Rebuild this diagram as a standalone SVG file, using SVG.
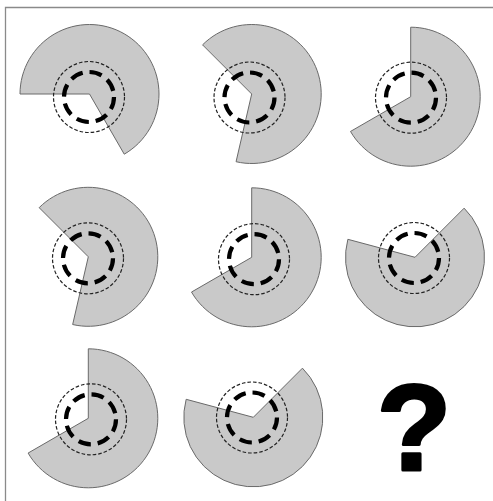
<svg xmlns="http://www.w3.org/2000/svg" width="493" height="501" viewBox="0 0 493 501">
<style>
.sector{fill:#c9c9c9;stroke:#6a6a6a;stroke-width:1}
.outer{fill:none;stroke:#222;stroke-width:1.2;stroke-dasharray:3.6 2}
.inner{fill:none;stroke:#000;stroke-width:4.2;stroke-dasharray:12.6 7}
.frame{stroke:#8a8a8a;stroke-width:1.3;fill:none}
.q{font-family:"Liberation Sans",Arial,sans-serif;font-weight:bold;font-size:122px;fill:#000;stroke:#000;stroke-width:3;stroke-linejoin:round;text-anchor:middle}
</style>
<rect width="493" height="501" fill="#fff"/>
<g id="frame">
<path class="frame" d="M5.5 501 V7.5 H493"/>
</g>
<g id="cell1">
<path class="sector" d="M89.5 94 L20 94 A69.5 69.5 0 1 1 124.25 154.19 Z"/>
<circle class="outer" cx="89" cy="97" r="35.5"/>
<circle class="inner" cx="89" cy="97" r="25"/>
</g>
<g id="cell2">
<path class="sector" d="M251.7 94 L202.56 44.86 A69.5 69.5 0 1 1 236.07 161.72 Z"/>
<circle class="outer" cx="249.5" cy="97.5" r="35.5"/>
<circle class="inner" cx="249.5" cy="97.5" r="25"/>
</g>
<g id="cell3">
<path class="sector" d="M410.7 96.7 L410.7 27.2 A69.5 69.5 0 1 1 350.51 131.45 Z"/>
<circle class="outer" cx="411" cy="97.7" r="35.5"/>
<circle class="inner" cx="411" cy="97.7" r="25"/>
</g>
<g id="cell4">
<path class="sector" d="M88.3 256.8 L39.16 207.66 A69.5 69.5 0 1 1 72.67 324.52 Z"/>
<circle class="outer" cx="88" cy="258.3" r="35.5"/>
<circle class="inner" cx="88" cy="258.3" r="25"/>
</g>
<g id="cell5">
<path class="sector" d="M251.7 257.3 L251.7 187.8 A69.5 69.5 0 1 1 191.51 292.05 Z"/>
<circle class="outer" cx="254" cy="259.2" r="35.5"/>
<circle class="inner" cx="254" cy="259.2" r="25"/>
</g>
<g id="cell6">
<path class="sector" d="M415 257.3 L464.14 208.16 A69.5 69.5 0 1 1 347.87 239.31 Z"/>
<circle class="outer" cx="414" cy="258" r="35.5"/>
<circle class="inner" cx="414" cy="258" r="25"/>
</g>
<g id="cell7">
<path class="sector" d="M88.3 418.3 L88.3 348.8 A69.5 69.5 0 1 1 28.11 453.05 Z"/>
<circle class="outer" cx="91" cy="419.3" r="35.5"/>
<circle class="inner" cx="91" cy="419.3" r="25"/>
</g>
<g id="cell8">
<path class="sector" d="M253.3 417.3 L302.44 368.16 A69.5 69.5 0 1 1 186.17 399.31 Z"/>
<circle class="outer" cx="252" cy="417.5" r="35.5"/>
<circle class="inner" cx="252" cy="417.5" r="25"/>
</g>
<g id="cell9">
<text class="q" x="414" y="470">?</text>
</g>
</svg>
